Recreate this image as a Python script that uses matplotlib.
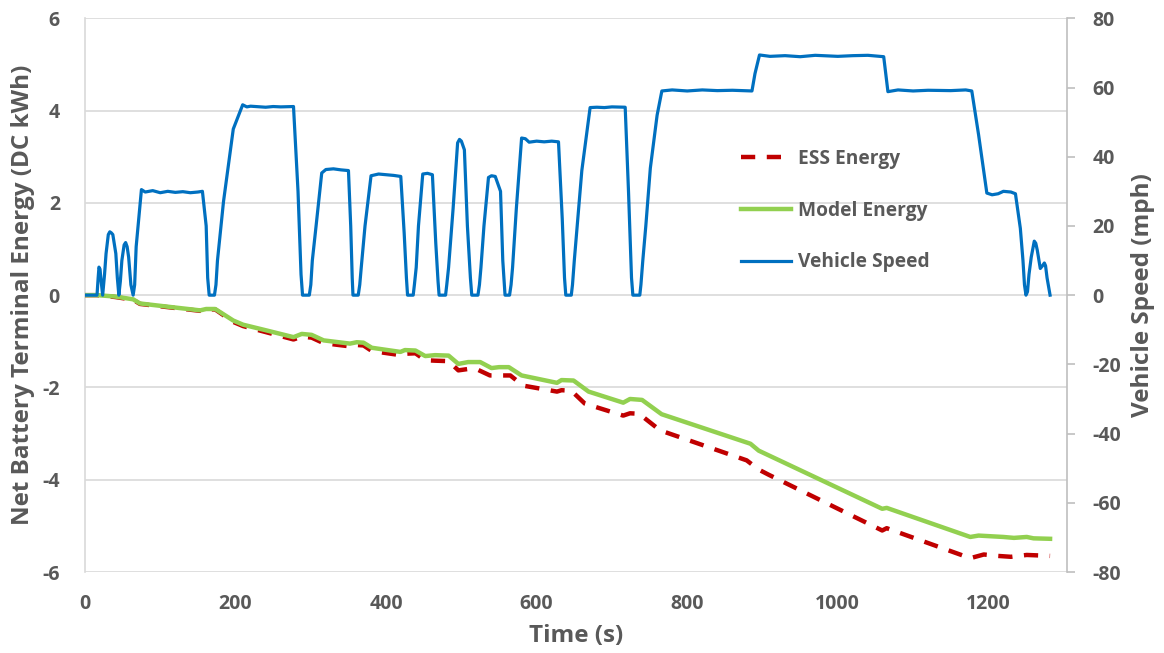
import numpy as np
import matplotlib
matplotlib.use("Agg")
from matplotlib import pyplot as plt

plt.rcParams['font.family'] = ['Open Sans', 'DejaVu Sans']
plt.rcParams['font.weight'] = 'bold'
plt.rcParams['axes.labelweight'] = 'bold'
plt.rcParams['axes.unicode_minus'] = False

# vehicle speed trace, (time s, speed mph)
speed_trace = [
    (0, 0), (16, 0), (17.5, 5), (18.6, 8.1), (20, 7.5), (21, 5), (23.5, 0),
    (26, 6), (28, 12), (31, 17.5), (33, 18.3), (35, 18), (37, 17.5), (41, 12),
    (43, 5), (45, 0), (47, 4), (49, 10), (52, 14.5), (54, 15.2), (56, 14),
    (58, 11), (61, 3), (64, 0), (66, 3), (68, 14), (75, 30.5), (80, 29.8),
    (90, 30.2), (100, 29.6), (110, 30.0), (120, 29.7), (130, 29.9), (140, 29.6),
    (150, 29.8), (156, 30.0), (161, 20), (163, 5), (165, 0), (172, 0), (174, 3),
    (176, 10), (184, 27), (197, 48), (209.5, 55), (215, 54.4), (220, 54.6),
    (240, 54.3), (250, 54.5), (260, 54.4), (277, 54.5), (283, 30), (287, 6),
    (289, 0), (298, 0), (300, 3), (302, 10), (307, 20), (314.5, 35.3),
    (320, 36.3), (330, 36.5), (340, 36.2), (350, 36.0), (353, 20), (355, 5),
    (356, 0), (363, 0), (365, 3), (367, 8), (372, 20), (380, 34.5), (390, 35.0),
    (400, 34.8), (410, 34.6), (419.5, 34.3), (424, 18), (427, 5), (428.5, 0),
    (436, 0), (437.6, 3), (440, 8), (443, 20), (448.7, 35), (455, 35.2),
    (461.5, 34.8), (466, 15), (469, 4), (470.4, 0), (479, 0), (480.6, 3),
    (483, 8), (489, 25), (495, 44), (497.5, 45), (500, 44.5), (504, 42),
    (508, 20), (512, 5), (513.8, 0), (522, 0), (524, 3), (526, 8), (530, 20),
    (536, 34), (540, 34.5), (545, 34.3), (552, 30), (555, 10), (556.8, 4),
    (558, 0), (564, 0), (566, 3), (568, 8), (573, 25), (580, 45.4), (585, 45.2),
    (590, 44.2), (600, 44.5), (610, 44.3), (620, 44.5), (629, 44.3), (634, 22),
    (637, 5), (638.7, 0), (646, 0), (647.6, 3), (650, 10), (660, 36),
    (671, 54.2), (680, 54.3), (690, 54.2), (700, 54.4), (717.6, 54.3), (722, 30),
    (726, 5), (727.8, 0), (737, 0), (738.5, 3), (741, 10), (745, 20),
    (751, 36.7), (760, 52), (766.3, 59), (780, 59.3), (800, 59.0), (820, 59.3),
    (840, 59.1), (860, 59.2), (886, 59.0), (890, 64), (896, 69.4), (910, 69.0),
    (930, 69.2), (950, 68.9), (970, 69.3), (1000, 69.0), (1020, 69.2),
    (1040, 69.3), (1061, 68.9), (1066.6, 58.8), (1080, 59.3), (1100, 59.0),
    (1120, 59.2), (1150, 59.1), (1170, 59.3), (1178, 59.0), (1187, 46.4),
    (1198, 29.5), (1205, 29.0), (1213, 29.3), (1220, 30.0), (1230, 29.8),
    (1236, 29.3), (1242.5, 19.3), (1246, 10), (1248, 3), (1250, 0), (1252, 1),
    (1254, 6), (1257, 11), (1261, 15.6), (1263, 15), (1265, 13), (1269, 7.7),
    (1272, 8.5), (1274.4, 9.3), (1276, 8.5), (1278, 5), (1282, 0),
]
speed_t = [p[0] for p in speed_trace]
speed_mph = [p[1] for p in speed_trace]

# net battery terminal energy (DC kWh)
model_t = [0, 16, 40, 64, 73, 110, 153, 161, 173, 197, 210, 240, 277, 288, 301,
           317, 352, 361, 370, 381, 419, 425, 439, 452, 465, 483, 496, 509, 525,
           540, 550, 563, 580, 627, 633, 649, 669, 715, 724, 740, 766, 884, 895,
           1059, 1065, 1176, 1187, 1198, 1220, 1234, 1251, 1260, 1282]
model_kwh = [0, 0, -0.03, -0.09, -0.18, -0.25, -0.33, -0.30, -0.30, -0.55, -0.64,
             -0.76, -0.91, -0.84, -0.86, -0.98, -1.05, -1.02, -1.03, -1.14, -1.23,
             -1.19, -1.20, -1.32, -1.30, -1.31, -1.49, -1.45, -1.45, -1.58, -1.56,
             -1.56, -1.74, -1.90, -1.84, -1.85, -2.09, -2.33, -2.25, -2.27, -2.58,
             -3.22, -3.37, -4.63, -4.61, -5.24, -5.21, -5.22, -5.24, -5.26, -5.24,
             -5.27, -5.28]

ess_t = [0, 16, 40, 64, 73, 110, 153, 161, 173, 197, 210, 240, 277, 288, 301,
         317, 352, 361, 370, 381, 419, 425, 439, 452, 465, 483, 496, 509, 521,
         538, 565, 582, 627, 633, 646, 664, 715, 724, 736, 764, 879, 895, 908,
         1059, 1065, 1176, 1194, 1212, 1230, 1251, 1282]
ess_kwh = [0, 0, -0.04, -0.10, -0.19, -0.26, -0.34, -0.31, -0.31, -0.58, -0.67,
           -0.80, -0.96, -0.90, -0.92, -1.04, -1.11, -1.08, -1.09, -1.21, -1.30,
           -1.27, -1.26, -1.41, -1.42, -1.43, -1.63, -1.60, -1.61, -1.74, -1.74,
           -1.96, -2.09, -2.06, -2.07, -2.35, -2.61, -2.56, -2.57, -2.93, -3.58,
           -3.78, -3.89, -5.10, -5.05, -5.70, -5.62, -5.65, -5.67, -5.63, -5.65]

txt = '#595959'
grid_c = '#D9D9D9'

fig = plt.figure(figsize=(11.64, 6.53), dpi=100)
ax_box = [0.073, 0.124, 0.844, 0.848]
ax = fig.add_axes(ax_box)
ax2 = ax.twinx()

l1, = ax.plot(ess_t, ess_kwh, color='#C00000', lw=3.2, dashes=(3.2, 2.6), zorder=3)
l2, = ax.plot(model_t, model_kwh, color='#92D050', lw=3.2, zorder=4)
l3, = ax2.plot(speed_t, speed_mph, color='#0070C0', lw=2.3)

ax.set_xlim(0, 1305)
ax.set_ylim(-6, 6)
ax.set_yticks(np.arange(-6, 7, 2))
ax2.set_ylim(-80, 80)
ax2.set_yticks(np.arange(-80, 81, 20))
ax.set_xticks(np.arange(0, 1201, 200))

ax.grid(axis='y', color=grid_c, lw=1.2)
ax.set_axisbelow(True)
for a in (ax, ax2):
    for s in a.spines.values():
        s.set_visible(False)
ax.spines['left'].set_visible(True)
ax.spines['left'].set_color(grid_c)
ax.spines['left'].set_linewidth(1.2)
ax2.spines['right'].set_visible(True)
ax2.spines['right'].set_color('#BFBFBF')
ax2.spines['right'].set_linewidth(1.2)

ax.tick_params(axis='y', length=0, pad=18, labelsize=14, labelcolor=txt)
ax.tick_params(axis='x', length=0, pad=16, labelsize=14, labelcolor=txt)
ax2.tick_params(axis='y', length=6, width=1.2, color='#BFBFBF', pad=12,
                labelsize=14, labelcolor=txt)
for lab in ax.get_xticklabels() + ax.get_yticklabels() + ax2.get_yticklabels():
    lab.set_fontweight('bold')

ax.set_xlabel('Time (s)', fontsize=17.5, color=txt, labelpad=7, fontweight='bold')

# axis titles placed on the figure, centred on the plot height
yc = ax_box[1] + ax_box[3] / 2
fig.text(0.0198, yc, 'Net Battery Terminal Energy (DC kWh)', rotation=90,
         ha='center', va='center', rotation_mode='anchor',
         fontsize=17.5, color=txt, fontweight='bold')
fig.text(0.982, yc, 'Vehicle Speed (mph)', rotation=90,
         ha='center', va='center', rotation_mode='anchor',
         fontsize=17.5, color=txt, fontweight='bold')

leg = ax2.legend([l1, l2, l3], ['ESS Energy', 'Model Energy', 'Vehicle Speed'],
                 loc='upper left', bbox_to_anchor=(0.65, 0.795), frameon=False,
                 prop={'size': 13.8, 'weight': 'bold'}, labelspacing=1.65,
                 handlelength=2.6, handletextpad=0.4)
for t in leg.get_texts():
    t.set_color(txt)

fig.savefig('out.png', dpi=100)
